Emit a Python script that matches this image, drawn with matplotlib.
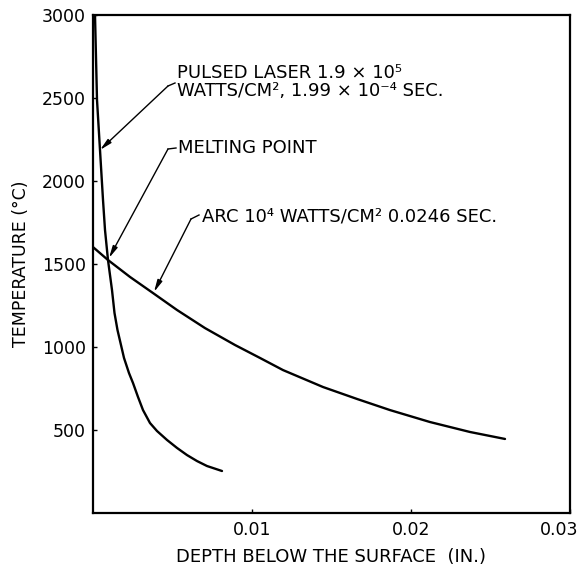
import matplotlib
matplotlib.use("Agg")
import matplotlib.pyplot as plt
from matplotlib.transforms import ScaledTranslation

# ---- data ----
laser_depth = [0.000126, 0.000252, 0.000440, 0.000629, 0.000755, 0.000943,
               0.001195, 0.001352, 0.001541, 0.001950, 0.002264, 0.002516,
               0.002830, 0.003145, 0.003585, 0.004025, 0.004654, 0.005283,
               0.005912, 0.006541, 0.007170, 0.008113]
laser_temp = [3000, 2488, 2187, 1886, 1705, 1524, 1343, 1205, 1102, 934, 843,
              783, 699, 620, 542, 494, 440, 392, 349, 313, 283, 253]

arc_depth = [0.0, 0.000943, 0.002327, 0.003774, 0.005283, 0.007044, 0.008931,
             0.010503, 0.011950, 0.014465, 0.016604, 0.018679, 0.021195,
             0.023711, 0.025912]
arc_temp = [1602, 1524, 1422, 1325, 1223, 1114, 1012, 934, 861, 759, 687, 620,
            548, 488, 446]

x_ticks = [0.01, 0.02, 0.03]
x_tick_labels = ["0.01", "0.02", "0.03"]
y_ticks = [500, 1000, 1500, 2000, 2500, 3000]
y_tick_labels = ["500", "1000", "1500", "2000", "2500", "3000"]

laser_label = ["PULSED LASER 1.9 × 10⁵", "WATTS/CM², 1.99 × 10⁻⁴ SEC."]
melt_label = "MELTING POINT"
arc_label = "ARC 10⁴ WATTS/CM² 0.0246 SEC."
x_label = "DEPTH BELOW THE SURFACE  (IN.)"
y_label = "TEMPERATURE (°C)"

# ---- figure ----
W, H = 583, 572
fig = plt.figure(figsize=(W / 100, H / 100), dpi=100)
L, R, T, B = 93, 570, 15, 513
ax = fig.add_axes([L / W, 1 - B / H, (R - L) / W, (B - T) / H])

ax.plot(laser_depth, laser_temp, color="black", lw=1.7,
        solid_capstyle="round", solid_joinstyle="round")
ax.plot(arc_depth, arc_temp, color="black", lw=1.7,
        solid_capstyle="round", solid_joinstyle="round")

ax.set_xlim(0, 0.03)
ax.set_ylim(0, 3000)
ax.set_xticks(x_ticks)
ax.set_xticklabels(x_tick_labels)
ax.set_yticks(y_ticks)
ax.set_yticklabels(y_tick_labels)
ax.tick_params(direction="in", length=3, width=1, labelsize=12.5)
ax.tick_params(axis="x", pad=6)
ax.tick_params(axis="y", pad=5)
for s in ax.spines.values():
    s.set_linewidth(1.6)

# last x tick label sits slightly left of the corner, as in the reference
lbls = ax.get_xticklabels()
lbls[-1].set_transform(lbls[-1].get_transform() +
                       ScaledTranslation(-11 / 100, 0, fig.dpi_scale_trans))

ax.set_xlabel(x_label, fontsize=13, labelpad=6)
ax.set_ylabel(y_label, fontsize=12.5, labelpad=9)

def px2data(x, y):
    return ((x - L) / (R - L) * 0.03, (B - y) / (B - T) * 3000)

def leader(tip, corner, end):
    c = px2data(*corner)
    e = px2data(*end)
    ax.plot([c[0], e[0]], [c[1], e[1]], color="black", lw=1.0)
    ax.annotate("", xy=px2data(*tip), xytext=c,
                arrowprops=dict(arrowstyle="-|>,head_length=0.7,head_width=0.15",
                                color="black", lw=1.0, shrinkA=0, shrinkB=0))

fs = 13
# pulsed laser
tx, ty = px2data(177, 73)
ax.text(tx, ty, laser_label[0], fontsize=fs, va="center", ha="left")
tx, ty = px2data(177, 91)
ax.text(tx, ty, laser_label[1], fontsize=fs, va="center", ha="left")
leader((100, 150), (168, 86), (175, 83))

# melting point
tx, ty = px2data(178, 148)
ax.text(tx, ty, melt_label, fontsize=fs, va="center", ha="left")
leader((109, 258), (168, 149), (176, 148))

# arc
tx, ty = px2data(202, 216)
ax.text(tx, ty, arc_label, fontsize=fs, va="center", ha="left")
leader((154, 292), (191, 219), (199, 215))

fig.savefig("out.png", dpi=100)
